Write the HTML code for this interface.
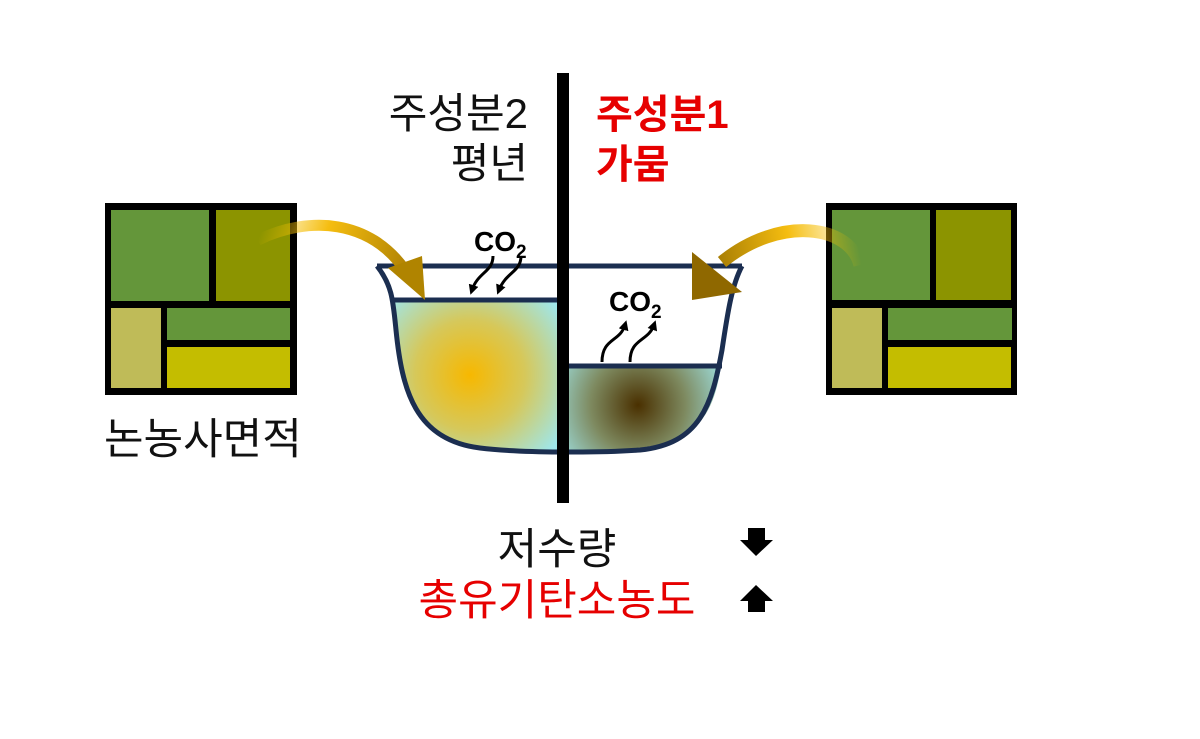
<!DOCTYPE html>
<html><head><meta charset="utf-8"><style>
html,body{margin:0;padding:0;background:#fff;width:1200px;height:739px;overflow:hidden}
svg{display:block}
text{font-family:"Liberation Sans","Noto Sans CJK KR",sans-serif}
</style></head><body>
<svg width="1200" height="739" viewBox="0 0 1200 739" xmlns="http://www.w3.org/2000/svg">
<defs>
<radialGradient id="wl" cx="470" cy="375" r="110" gradientUnits="userSpaceOnUse">
<stop offset="0" stop-color="#f7b800"/><stop offset="0.5" stop-color="#d6c85a"/><stop offset="1" stop-color="#9fe6ea"/></radialGradient>
<radialGradient id="wr" cx="638" cy="405" r="95" gradientUnits="userSpaceOnUse">
<stop offset="0" stop-color="#4a3000"/><stop offset="0.5" stop-color="#7e8a60"/><stop offset="1" stop-color="#a0e4e6"/></radialGradient>
<linearGradient id="al" x1="258" y1="240" x2="425" y2="300" gradientUnits="userSpaceOnUse">
<stop offset="0" stop-color="#f5c000" stop-opacity="0"/><stop offset="0.35" stop-color="#f5bd10"/><stop offset="1" stop-color="#9a7000"/></linearGradient>
<linearGradient id="ar" x1="862" y1="265" x2="695" y2="295" gradientUnits="userSpaceOnUse">
<stop offset="0" stop-color="#f5c000" stop-opacity="0"/><stop offset="0.4" stop-color="#f5bd10"/><stop offset="1" stop-color="#8a6500"/></linearGradient>
<marker id="ah" markerWidth="10" markerHeight="10" refX="5" refY="5" orient="auto" markerUnits="userSpaceOnUse" viewBox="0 0 10 10"><path d="M0,0 L10,5 L0,10z" fill="#000"/></marker>
</defs>

<rect x="105" y="203" width="192" height="192" fill="#000"/>
<rect x="111" y="210" width="98" height="91" fill="#64963a"/>
<rect x="216" y="210" width="74" height="91" fill="#8c9400"/>
<rect x="111" y="308" width="50" height="80" fill="#bfbb58"/>
<rect x="167" y="308" width="123" height="32" fill="#64963a"/>
<rect x="167" y="347" width="123" height="41" fill="#c4bd00"/>
<rect x="826" y="203" width="191" height="192" fill="#000"/>
<rect x="832" y="210" width="98" height="90" fill="#64963a"/>
<rect x="936" y="210" width="75" height="90" fill="#8c9400"/>
<rect x="832" y="308" width="50" height="80" fill="#bfbb58"/>
<rect x="888" y="308" width="124" height="32" fill="#64963a"/>
<rect x="888" y="347" width="123" height="41" fill="#c4bd00"/>

<path d="M394,300 L557,300 L557,452 C470,452 430,440 412,400 C402,375 398,340 394,300Z" fill="url(#wl)"/>
<path d="M569,366 L721,366 C716,400 705,430 670,442 C640,450 600,452 569,452Z" fill="url(#wr)"/>
<path d="M377,266 L742,266 M377,266 C392,285 393,300 396,330 C402,390 415,440 480,448 C520,453 600,453 640,450 C700,444 712,405 722,350 C728,310 732,285 742,266" fill="none" stroke="#1b2e50" stroke-width="5"/>
<line x1="394" y1="300" x2="557" y2="300" stroke="#1b2e50" stroke-width="5"/>
<line x1="569" y1="366" x2="722" y2="366" stroke="#1b2e50" stroke-width="5"/>

<rect x="557" y="73" width="12" height="430" fill="#000"/>

<path d="M258,240 C310,215 370,220 405,270" fill="none" stroke="url(#al)" stroke-width="11"/>
<polygon points="388,268 422,256 425,300" fill="#b08400"/>
<path d="M860,265 C850,225 780,215 722,262" fill="none" stroke="url(#ar)" stroke-width="13"/>
<polygon points="692,252 742,292 692,300" fill="#8f6800"/>

<text x="474" y="251" font-size="28" font-weight="bold">CO<tspan font-size="19" dy="7">2</tspan></text>
<text x="609" y="311" font-size="28" font-weight="bold">CO<tspan font-size="19" dy="7">2</tspan></text>
<path d="M493,256 C493,272 478,272 472,290" fill="none" stroke="#000" stroke-width="3" marker-end="url(#ah)"/>
<path d="M521,256 C521,272 506,272 499,290" fill="none" stroke="#000" stroke-width="3" marker-end="url(#ah)"/>
<path d="M602,362 C602,338 620,342 625,325" fill="none" stroke="#000" stroke-width="3" marker-end="url(#ah)"/>
<path d="M630,362 C630,338 648,342 654,325" fill="none" stroke="#000" stroke-width="3" marker-end="url(#ah)"/>

<text x="528" y="128" font-size="42" text-anchor="end" fill="#111">주성분2</text>
<text x="528" y="178" font-size="42" text-anchor="end" fill="#111">평년</text>
<text x="596" y="128" font-size="40" font-weight="bold" fill="#e60000">주성분1</text>
<text x="596" y="178" font-size="40" font-weight="bold" fill="#e60000">가뭄</text>
<text x="104" y="454" font-size="43" fill="#111">논농사면적</text>
<text x="557" y="564" font-size="43" text-anchor="middle" fill="#111">저수량</text>
<text x="557" y="615" font-size="43" text-anchor="middle" fill="#e60000">총유기탄소농도</text>
<polygon points="748,528 765,528 765,540 773,540 756,556 740,540 748,540" fill="#000"/>
<polygon points="756,585 773,601 765,601 765,612 748,612 748,601 740,601" fill="#000"/>
</svg>
</body></html>
